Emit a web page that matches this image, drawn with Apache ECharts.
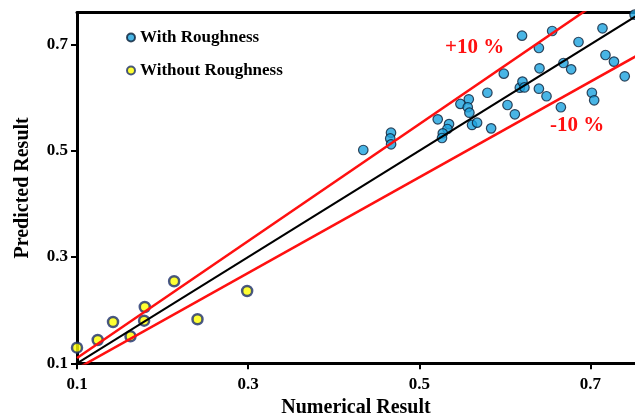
<!DOCTYPE html>
<html><head><meta charset="utf-8">
<script src="https://cdn.jsdelivr.net/npm/echarts@6/dist/echarts.min.js"></script>
<style>html,body{margin:0;padding:0;background:#fff}#c{width:635px;height:416px}</style>
</head><body><div id="c"></div>
<script>
// Data
const withRoughness = [
  [0.4345,0.5013],[0.4669,0.5339],[0.4660,0.5230],[0.4670,0.5120],
  [0.5215,0.5590],[0.5347,0.5500],[0.5328,0.5408],[0.5274,0.5327],[0.5265,0.5239],
  [0.5480,0.5880],[0.5578,0.5967],[0.5566,0.5817],[0.5585,0.5715],[0.5616,0.5484],
  [0.5675,0.5527],[0.5839,0.5420],[0.5795,0.6090],[0.6030,0.5860],[0.6116,0.5685],
  [0.5987,0.6449],[0.6200,0.7164],[0.6174,0.6185],[0.6205,0.6300],[0.6228,0.6190],
  [0.6397,0.6932],[0.6404,0.6550],[0.6397,0.6166],[0.6486,0.6024],[0.6552,0.7252],
  [0.6654,0.5817],[0.6684,0.6650],[0.6774,0.6531],[0.6860,0.7045],[0.7016,0.6090],
  [0.7043,0.5948],[0.7140,0.7303],[0.7175,0.6800],[0.7274,0.6676],[0.7400,0.6400],
  [0.7515,0.7560]
];
const withoutRoughness = [
  [0.1000,0.1294],[0.1242,0.1438],[0.1421,0.1777],[0.1625,0.1508],[0.1792,0.2059],
  [0.1784,0.1802],[0.2135,0.2543],[0.2408,0.1828],[0.2988,0.2360]
];
const perfectLine = [[0.1,0.1],[0.8,0.8]];
const upperLine = [[0.1,0.11],[0.8,0.88]];
const lowerLine = [[0.1,0.09],[0.9,0.81]];
const tickValues = [0.1,0.3,0.5,0.7];

const FONT = '"Liberation Serif","Times New Roman",serif';
const chart = echarts.init(document.getElementById('c'));
const axisCommon = {
  type:'value', min:0.1, interval:0.2,
  axisLine:{show:true, onZero:false, lineStyle:{color:'#000', width:3}},
  axisTick:{show:true, inside:false, length:6, lineStyle:{color:'#000', width:2}},
  splitLine:{show:false},
  axisLabel:{color:'#000', fontFamily:FONT, fontWeight:'bold', fontSize:17, showMaxLabel:false,
    formatter:v=>{const r=Math.round(v*10)/10; return tickValues.indexOf(r)>=0 ? r.toFixed(1) : '';}},
  nameTextStyle:{color:'#000', fontFamily:FONT, fontWeight:'bold', fontSize:20},
  nameLocation:'middle'
};
chart.setOption({
  animation:false,
  backgroundColor:'#fff',
  grid:{left:77, right:0, top:12.5, bottom:52.7, outerBoundsMode:'none', containLabel:false},
  legend:{
    orient:'vertical', left:121, top:24, itemGap:16, itemWidth:8, itemHeight:8,
    textStyle:{color:'#000', fontFamily:FONT, fontWeight:'bold', fontSize:17},
    data:['With Roughness','Without Roughness']
  },
  xAxis:[
    Object.assign({}, axisCommon, {max:0.752, name:'Numerical Result', nameGap:33,
      axisLabel:Object.assign({}, axisCommon.axisLabel, {margin:13})}),
    {type:'value', position:'top', min:0.1, max:0.752, axisLine:{show:true, onZero:false, lineStyle:{color:'#000', width:3}},
      axisTick:{show:false}, axisLabel:{show:false}, splitLine:{show:false}}
  ],
  yAxis:Object.assign({}, axisCommon, {max:0.76, name:'Predicted Result', nameGap:44,
      axisLabel:Object.assign({}, axisCommon.axisLabel, {margin:9})}),
  series:[
    {type:'line', data:upperLine, symbol:'none', clip:true, silent:true,
      lineStyle:{color:'#FF1010', width:2.5}},
    {type:'line', data:lowerLine, symbol:'none', clip:true, silent:true,
      lineStyle:{color:'#FF1010', width:2.5}},
    {type:'line', data:perfectLine, symbol:'none', clip:true, silent:true,
      lineStyle:{color:'#000', width:2}},
    {name:'With Roughness', type:'scatter', data:withRoughness, symbol:'circle', symbolSize:9.5, clip:false,
      itemStyle:{color:'#1BA3DF', borderColor:'#0B1E36', borderWidth:1.2}},
    {name:'Without Roughness', type:'scatter', data:withoutRoughness, symbol:'circle', symbolSize:10,
      itemStyle:{color:'#FFFF00', borderColor:'#1B2E6E', borderWidth:2.5}}
  ],
  graphic:[
    {type:'text', left:445, top:37, style:{text:'+10 %', fill:'#FF1010', font:'bold 21px '+FONT}},
    {type:'text', left:550, top:115, style:{text:'-10 %', fill:'#FF1010', font:'bold 21px '+FONT}}
  ]
});
</script></body></html>
